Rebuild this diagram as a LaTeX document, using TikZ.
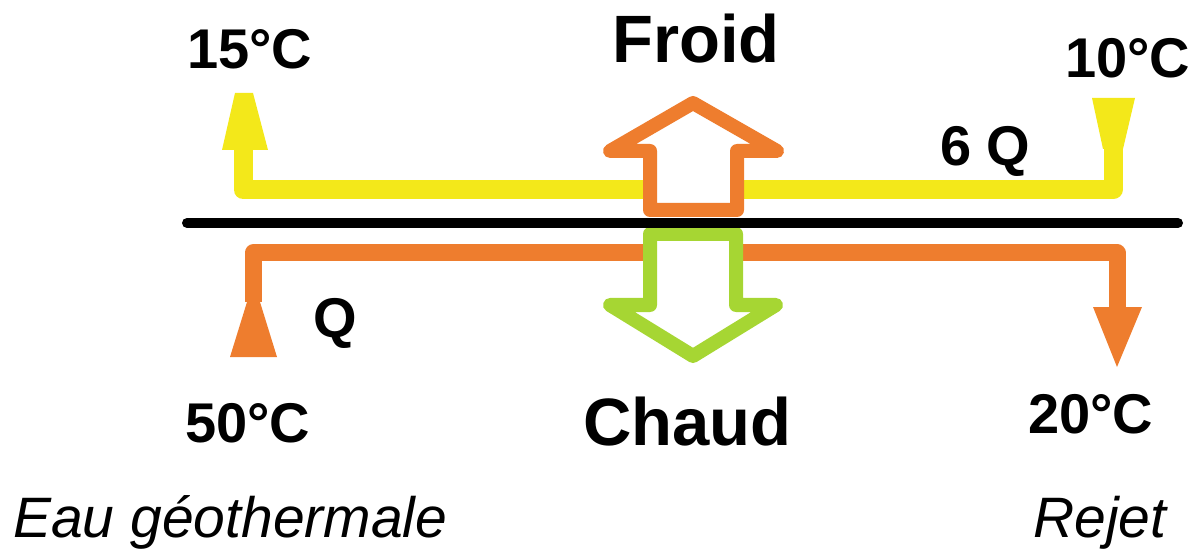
\documentclass[tikz,border=0pt]{standalone}
\usepackage{fontspec}
\setmainfont{Liberation Sans}
\begin{document}
\begin{tikzpicture}[x=1pt,y=-1pt,
  temp/.style={font=\fontsize{56}{64}\selectfont\bfseries, inner sep=0pt, anchor=base west},
  big/.style={font=\fontsize{67}{76}\selectfont\bfseries, inner sep=0pt, anchor=base west},
  place/.style={font=\fontsize{57}{64}\selectfont\itshape, inner sep=0pt, anchor=base west},
  coldflow/.style={draw=coldyellow, line width=19pt, line join=round},
  hotflow/.style={draw=hotorange, line width=17pt, line join=round},
  bigarrow/.style={line width=14pt, line join=round, fill=white},
  wall/.style={draw=black, line width=10pt, line cap=round}]
\definecolor{coldyellow}{HTML}{F3E81A}
\definecolor{hotorange}{HTML}{EE7D2E}
\definecolor{warmgreen}{HTML}{A6D633}

\useasboundingbox (0,0) rectangle (1191,553);

% cold circuit (top): enters on the right at 10 C, leaves on the left at 15 C
\coordinate (cin)  at (1113,147);
\coordinate (cr)   at (1113,190);
\coordinate (cl)   at (243,190);
\coordinate (cout) at (243,150);
\draw[coldflow] (cin) -- (cr) -- (cl) -- (cout);
\fill[coldyellow] (222,150) -- (268,150) -- (253,93) -- (235,93) -- cycle;
\fill[coldyellow] (1092,98) -- (1135,98) -- (1123,149) -- (1103,149) -- cycle;

% hot circuit (bottom): geothermal water in on the left, rejected on the right
\coordinate (hin)  at (253,302);
\coordinate (hl)   at (253,253);
\coordinate (hr)   at (1117,253);
\coordinate (hout) at (1117,309);
\draw[hotflow] (hin) -- (hl) -- (hr) -- (hout);
\fill[hotorange] (247,302) -- (260,302) -- (277,357) -- (230,357) -- cycle;
\fill[hotorange] (1093,307) -- (1142,307) -- (1117,367) -- cycle;

% heat transfer arrows
\draw[bigarrow, draw=hotorange] (693,103) -- (610,151) -- (650,151) -- (650,210)
  -- (737,210) -- (737,151) -- (777,151) -- cycle;
\draw[bigarrow, draw=warmgreen] (693,356) -- (610,305) -- (650,305) -- (650,234)
  -- (736,234) -- (736,305) -- (776,305) -- cycle;

% exchanger wall
\coordinate (wl) at (187,223);
\coordinate (wr) at (1178,223);
\draw[wall] (wl) -- (wr);

% labels
\node[temp] (t15) at (187,69) {15°C};
\node[big]  (froid) at (612,63) {Froid};
\node[temp] (t10) at (1065,78) {10°C};
\node[temp] (q6) at (940,166) {6 Q};
\node[temp] (q1) at (313,337) {Q};
\node[temp] (t50) at (185,442) {50°C};
\node[big]  (chaud) at (583,445) {Chaud};
\node[temp] (t20) at (1028,433) {20°C};
\node[place] (geo) at (13,537) {Eau géothermale};
\node[place] (rej) at (1033,537) {Rejet};
\end{tikzpicture}
\end{document}
